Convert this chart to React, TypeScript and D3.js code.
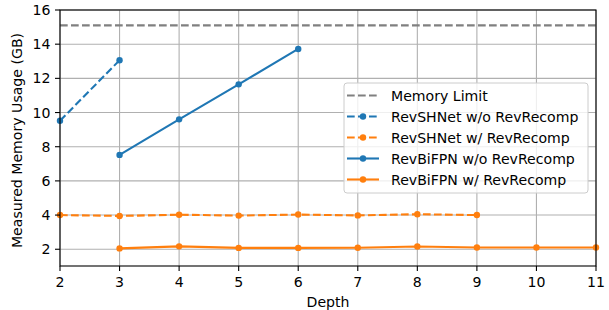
import React from "react";
import * as d3 from "d3";

const depthsSHNetWo = [2, 3];
const memSHNetWo = [9.52, 13.06];
const depthsSHNetW = [2, 3, 4, 5, 6, 7, 8, 9];
const memSHNetW = [4.0, 3.95, 4.02, 3.97, 4.03, 3.98, 4.05, 4.0];
const depthsBiFPNWo = [3, 4, 5, 6];
const memBiFPNWo = [7.52, 9.6, 11.65, 13.72];
const depthsBiFPNW = [3, 4, 5, 6, 7, 8, 9, 10, 11];
const memBiFPNW = [2.05, 2.17, 2.08, 2.08, 2.09, 2.16, 2.1, 2.1, 2.1];
const memoryLimit = 15.1;
const xTicks = [2, 3, 4, 5, 6, 7, 8, 9, 10, 11];
const yTicks = [2, 4, 6, 8, 10, 12, 14, 16];
const legendLabels = [
  "Memory Limit",
  "RevSHNet w/o RevRecomp",
  "RevSHNet w/ RevRecomp",
  "RevBiFPN w/o RevRecomp",
  "RevBiFPN w/ RevRecomp",
];

const W = 609, H = 310;
const L = 60, R = 596, T = 10, B = 266;
const BLUE = "#1f77b4", ORANGE = "#ff7f0e", GRAY = "#808080";
const FONT = "'DejaVu Sans'";
const FS = 14.1;

export default function App() {
  const x = d3.scaleLinear().domain([2, 11]).range([L, R]);
  const y = d3.scaleLinear().domain([1.02, 16]).range([B, T]);
  const line = d3.line<[number, number]>().x(d => x(d[0])).y(d => y(d[1]));
  const series = [
    { xs: depthsSHNetWo, ys: memSHNetWo, color: BLUE, dashed: true },
    { xs: depthsSHNetW, ys: memSHNetW, color: ORANGE, dashed: true },
    { xs: depthsBiFPNWo, ys: memBiFPNWo, color: BLUE, dashed: false },
    { xs: depthsBiFPNW, ys: memBiFPNW, color: ORANGE, dashed: false },
  ];
  const dash = "7.7,3.3";
  const legendStyles = [
    { color: GRAY, dashed: true, marker: false },
    { color: BLUE, dashed: true, marker: true },
    { color: ORANGE, dashed: true, marker: true },
    { color: BLUE, dashed: false, marker: true },
    { color: ORANGE, dashed: false, marker: true },
  ];
  return (
    <svg width={W} height={H} style={{ position: "absolute", left: 0, top: 0, background: "#fff", fontFamily: FONT }}>
      <defs>
        <clipPath id="clip"><rect x={L} y={T} width={R - L} height={B - T} /></clipPath>
      </defs>
      {xTicks.map(t => (
        <line key={"gx" + t} x1={x(t)} x2={x(t)} y1={T} y2={B} stroke="#b0b0b0" strokeWidth={1.1} />
      ))}
      {yTicks.map(t => (
        <line key={"gy" + t} x1={L} x2={R} y1={y(t)} y2={y(t)} stroke="#b0b0b0" strokeWidth={1.1} />
      ))}
      <line x1={L} x2={R} y1={y(memoryLimit)} y2={y(memoryLimit)} stroke={GRAY} strokeWidth={2.1} strokeDasharray={dash} />
      <g clipPath="url(#clip)">
        {series.map((s, i) => (
          <g key={i}>
            <path d={line(s.xs.map((v, j) => [v, s.ys[j]] as [number, number])) || ""} fill="none" stroke={s.color} strokeWidth={2.1} strokeDasharray={s.dashed ? dash : undefined} />
          </g>
        ))}
      </g>
      {series.map((s, i) => (
        <g key={"m" + i}>
          {s.xs.map((v, j) => (
            <circle key={j} cx={x(v)} cy={y(s.ys[j])} r={3.2} fill={s.color} />
          ))}
        </g>
      ))}
      <rect x={L} y={T} width={R - L} height={B - T} fill="none" stroke="#000" strokeWidth={1.1} />
      {xTicks.map(t => (
        <g key={"tx" + t}>
          <line x1={x(t)} x2={x(t)} y1={B} y2={B + 5} stroke="#000" strokeWidth={1.1} />
          <text x={x(t)} y={B + 20.5} textAnchor="middle" fontSize={FS}>{t}</text>
        </g>
      ))}
      {yTicks.map(t => (
        <g key={"ty" + t}>
          <line x1={L - 5} x2={L} y1={y(t)} y2={y(t)} stroke="#000" strokeWidth={1.1} />
          <text x={L - 9.5} y={y(t) + 5} textAnchor="end" fontSize={FS}>{t}</text>
        </g>
      ))}
      <text x={(L + R) / 2} y={306.5} textAnchor="middle" fontSize={FS}>Depth</text>
      <text transform={`translate(22,140.5) rotate(-90)`} textAnchor="middle" fontSize={FS}>Measured Memory Usage (GB)</text>
      <g>
        <rect x={344} y={83} width={244} height={110} rx={3} fill="#fff" fillOpacity={0.8} stroke="#ccc" strokeWidth={1} />
        {legendLabels.map((lab, i) => {
          const ly = 95.5 + i * 21;
          const st = legendStyles[i];
          return (
            <g key={lab}>
              <line x1={347} x2={379} y1={ly} y2={ly} stroke={st.color} strokeWidth={2.1} strokeDasharray={st.dashed ? dash : undefined} />
              {st.marker && <circle cx={363} cy={ly} r={3.2} fill={st.color} />}
              <text x={391} y={ly + 5.3} fontSize={FS}>{lab}</text>
            </g>
          );
        })}
      </g>
    </svg>
  );
}
